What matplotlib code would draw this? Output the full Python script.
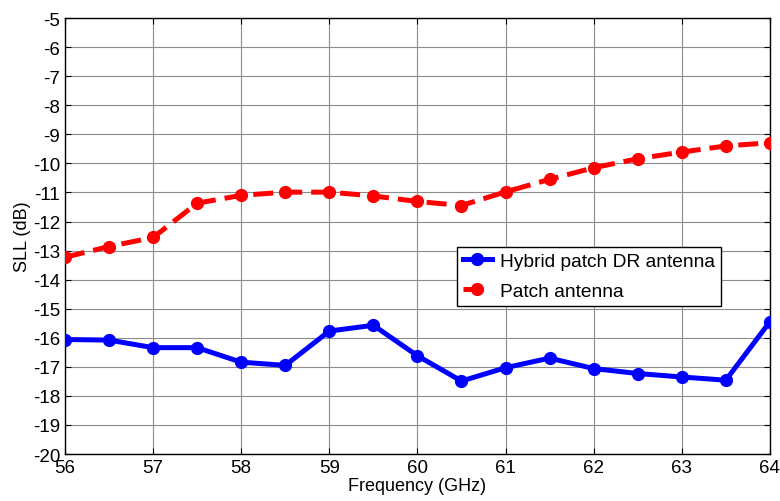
import matplotlib
matplotlib.use("Agg")
import matplotlib.pyplot as plt

freq_ghz = [56, 56.5, 57, 57.5, 58, 58.5, 59, 59.5, 60, 60.5, 61, 61.5, 62, 62.5, 63, 63.5, 64]
sll_hybrid = [-16.06, -16.08, -16.34, -16.34, -16.84, -16.95, -15.77, -15.57, -16.62,
              -17.49, -17.03, -16.70, -17.06, -17.23, -17.35, -17.46, -15.45]
sll_patch = [-13.23, -12.86, -12.55, -11.37, -11.10, -10.99, -10.99, -11.12, -11.31,
             -11.45, -10.98, -10.55, -10.15, -9.84, -9.61, -9.40, -9.29]
x_ticks = [56, 57, 58, 59, 60, 61, 62, 63, 64]
y_ticks = list(range(-20, -4))

plt.rcParams["font.family"] = ["Liberation Sans", "DejaVu Sans"]
plt.rcParams["axes.unicode_minus"] = False

fig = plt.figure(figsize=(7.8, 5.02), dpi=100)
ax = fig.add_axes([0.0833, 0.0936, 0.9037, 0.8684])

ax.plot(freq_ghz, sll_hybrid, color="#0000ff", lw=3.6, marker="o", ms=8.5,
        label="Hybrid patch DR antenna", zorder=3)
ax.plot(freq_ghz, sll_patch, color="#ff0000", lw=3.6, marker="o", ms=8.5,
        ls=(0, (4, 1.8)), label="Patch antenna", zorder=3)

ax.set_xlim(56, 64)
ax.set_ylim(-20, -5)
ax.set_xticks(x_ticks)
ax.set_yticks(y_ticks)
ax.tick_params(direction="in", top=True, right=True, labelsize=13.5, length=4, width=0.8)
ax.grid(True, color="#8c8c8c", lw=0.8, ls="-")
ax.set_axisbelow(True)
for s in ax.spines.values():
    s.set_linewidth(1.0)
    s.set_color("black")

ax.set_xlabel("Frequency (GHz)", fontsize=13, labelpad=1)
ax.set_ylabel("SLL (dB)", fontsize=13, labelpad=1)

leg = ax.legend(loc="upper left", bbox_to_anchor=(0.5565, 0.475), fontsize=13.8,
                frameon=True, fancybox=False, edgecolor="black", framealpha=1,
                handlelength=1.5, handletextpad=0.45, borderpad=0.3,
                labelspacing=0.65, borderaxespad=0)
leg.get_frame().set_linewidth(1.0)

fig.savefig("out.png", dpi=100)
